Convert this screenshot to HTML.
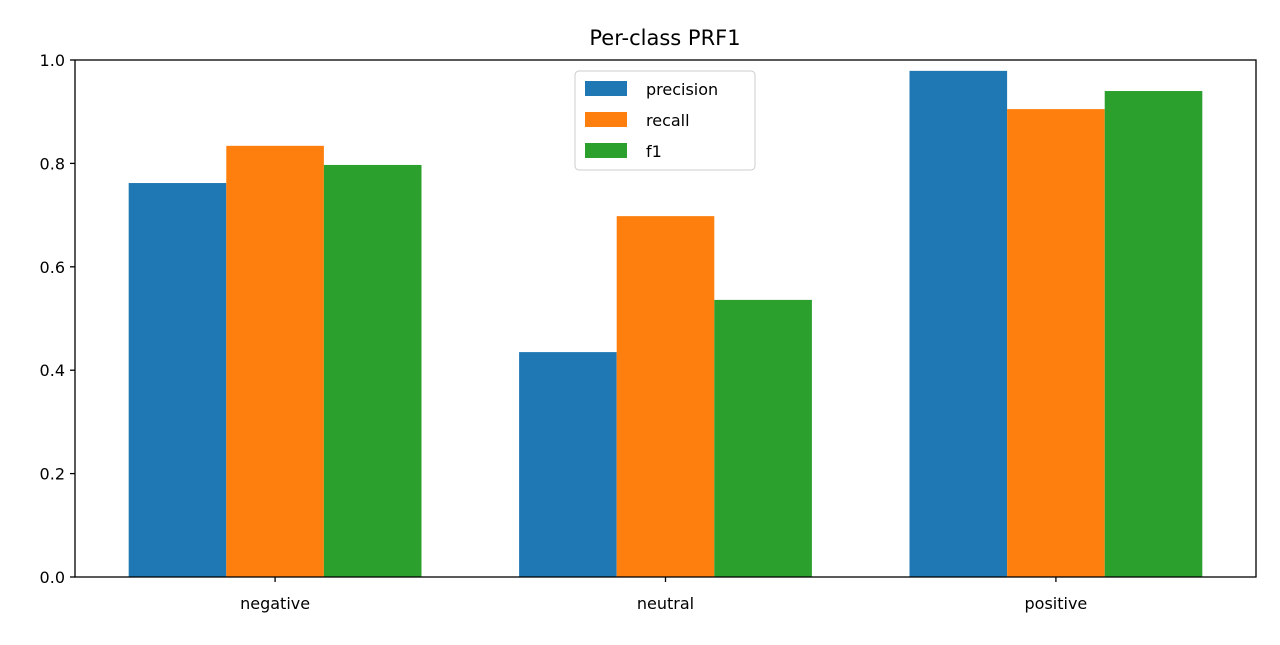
<!DOCTYPE html>
<html><head><meta charset="utf-8"><style>
body{margin:0;background:#fff}
svg text{font-family:"DejaVu Sans","Liberation Sans",sans-serif;fill:#000}
</style></head><body>
<svg id="chart" width="1280" height="640" xmlns="http://www.w3.org/2000/svg">
<text x="665" y="45" font-size="21" text-anchor="middle">Per-class PRF1</text>
<g id="bars"></g>
<g id="axes"></g>
</svg>
<script>
const categories = ["negative","neutral","positive"];
const seriesNames = ["precision","recall","f1"];
const precision = [0.762,0.435,0.979];
const recall = [0.834,0.698,0.905];
const f1 = [0.797,0.536,0.940];
const yTicks = [0,0.2,0.4,0.6,0.8,1.0];
const yTickLabels = ["0.0","0.2","0.4","0.6","0.8","1.0"];
const colors = ["#1f77b4","#ff7f0e","#2ca02c"];

const L=75,R=1256,T=60,B=577;
const xmin=-0.5125,xmax=2.5125;
const xs=v=>L+(v-xmin)/(xmax-xmin)*(R-L);
const ys=v=>B-v*(B-T);
const NS="http://www.w3.org/2000/svg";
const svg=document.getElementById('chart');
const barsG=document.getElementById('bars');
const axesG=document.getElementById('axes');
function mk(tag,attrs,parent){const e=document.createElementNS(NS,tag);for(const k in attrs)e.setAttribute(k,attrs[k]);parent.appendChild(e);return e;}
const series=[precision,recall,f1];
const w=0.25;
series.forEach((vals,si)=>{
  vals.forEach((v,ci)=>{
    const x0=xs(ci+(si-1)*w-w/2),x1=xs(ci+(si-1)*w+w/2);
    const r=mk('rect',{x:x0,y:ys(v),width:x1-x0,height:ys(0)-ys(v),fill:colors[si]},barsG);
    
    
  });
});
const frame=mk('rect',{x:L,y:T,width:R-L,height:B-T,fill:'none',stroke:'#000','stroke-width':1.3},axesG);


yTicks.forEach((t,i)=>{
  mk('line',{x1:L-5,x2:L,y1:ys(t),y2:ys(t),stroke:'#000','stroke-width':1.3},axesG);
  const tx=mk('text',{x:L-10,y:ys(t)+6,'font-size':16,'text-anchor':'end'},axesG);
  tx.textContent=yTickLabels[i];
  
  
});
categories.forEach((c,i)=>{
  mk('line',{x1:xs(i),x2:xs(i),y1:B,y2:B+5,stroke:'#000','stroke-width':1.3},axesG);
  const tx=mk('text',{x:xs(i),y:B+32,'font-size':16,'text-anchor':'middle'},axesG);
  tx.textContent=c;
  
  
});
const lg=mk('g',{},svg);


mk('rect',{x:575,y:71,width:180,height:99,rx:4,fill:'#fff','fill-opacity':0.8,stroke:'#ccc'},lg);
seriesNames.forEach((n,i)=>{
  const y=88+i*31;
  mk('rect',{x:585,y:y-7,width:42,height:15,fill:colors[i]},lg);
  const tx=mk('text',{x:646,y:y+7,'font-size':16},lg);
  tx.textContent=n;
  
  
});
</script>
</body></html>
